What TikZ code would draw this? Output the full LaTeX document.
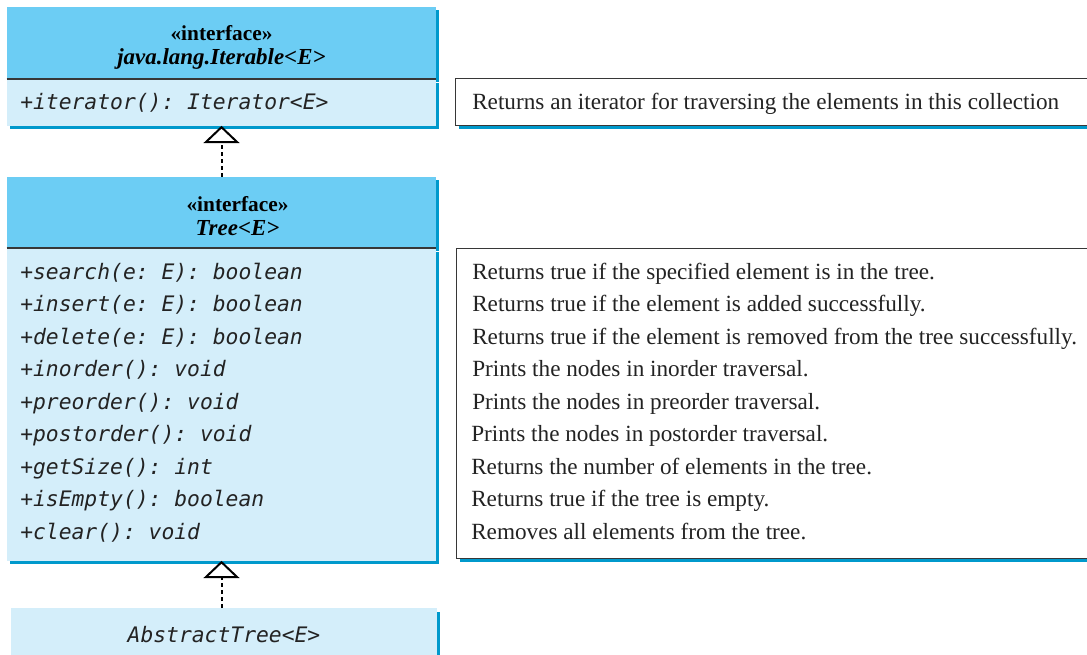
\documentclass[tikz,border=0pt]{standalone}
\usepackage{fontspec}
\setmainfont{Liberation Serif}
\setmonofont{DejaVu Sans Mono}
\usepackage{tikz}
\usetikzlibrary{arrows.meta,positioning,shadows}
\definecolor{headblue}{RGB}{108,205,244}
\definecolor{bodyblue}{RGB}{212,238,250}
\definecolor{shadeblue}{RGB}{0,153,204}
\definecolor{rulegray}{RGB}{55,55,55}
\definecolor{inkgray}{RGB}{35,35,35}
\tikzset{
  ushade/.style={general shadow={fill=shadeblue, shadow xshift=2.4pt, shadow yshift=-2.6pt}},
  uhead/.style={fill=headblue, ushade, minimum width=321.75pt, inner sep=0pt},
  utitle/.style={inner sep=0pt, align=center, font=\fontsize{16}{18}\selectfont\bfseries},
  ubody/.style={fill=bodyblue, ushade, minimum width=321.75pt, inner sep=0pt},
  umeth/.style={anchor=base west, inner sep=0pt, text=inkgray, font=\fontsize{16}{19}\selectfont\ttfamily\itshape},
  udesc/.style={anchor=base west, inner sep=0pt, text=inkgray, font=\fontsize{17.4}{19}\selectfont},
  dbox/.style={draw=rulegray, line width=1.1pt, fill=white, ushade, anchor=north west, minimum width=483.75pt, inner sep=0pt},
  urule/.style={draw=rulegray, line width=1.5pt},
  impl/.style={-{Triangle[open, length=13pt, width=27pt, line width=1.5pt]}, line width=1.5pt, dash pattern=on 3pt off 2.25pt}
}
\begin{document}
\begin{tikzpicture}[x=0.75pt, y=-0.75pt]
\useasboundingbox (0,0) rectangle (1087,654);
\clip (0,0) rectangle (1087,654);
\node[uhead, minimum height=54pt] (iterHead) at (221.5,43) {};
\node[utitle] (iterTitle) at (221.5,47.5) {«interface»\\{\fontsize{17.2}{18}\selectfont\itshape java.lang.Iterable<E>}};
\node[ubody, minimum height=34.5pt, below=0pt of iterHead] (iterBody) {};
\draw[urule] (iterBody.north west) -- (iterBody.north east);
\node[umeth] (m0) at (20,109) {+iterator(): Iterator<E>};
\node[dbox, minimum height=35.25pt] (iterDesc) at (455,78) {};
\node[udesc] (d0) at (472,109) {Returns an iterator for traversing the elements in this collection};

\node[uhead, minimum height=53.25pt] (treeHead) at (221.5,212.5) {};
\node[utitle] (treeTitle) at (237.5,216) {«interface»\\{\fontsize{17.2}{18}\selectfont\itshape Tree<E>}};
\node[ubody, minimum height=234pt, below=0pt of treeHead] (treeBody) {};
\draw[urule] (treeBody.north west) -- (treeBody.north east);
\node[dbox, minimum height=232.5pt] (treeDesc) at (456,248) {};
\node[umeth] (m1) at (20,279) {+search(e: E): boolean};
\node[umeth] (m2) at (20,311.5) {+insert(e: E): boolean};
\node[umeth] (m3) at (20,344) {+delete(e: E): boolean};
\node[umeth] (m4) at (20,376.5) {+inorder(): void};
\node[umeth] (m5) at (20,409) {+preorder(): void};
\node[umeth] (m6) at (20,441.5) {+postorder(): void};
\node[umeth] (m7) at (20,474) {+getSize(): int};
\node[umeth] (m8) at (20,506.5) {+isEmpty(): boolean};
\node[umeth] (m9) at (20,539) {+clear(): void};
\node[udesc] (d1) at (472,279) {Returns true if the specified element is in the tree.};
\node[udesc] (d2) at (472,311.5) {Returns true if the element is added successfully.};
\node[udesc] (d3) at (472,344) {Returns true if the element is removed from the tree successfully.};
\node[udesc] (d4) at (472,376.5) {Prints the nodes in inorder traversal.};
\node[udesc] (d5) at (472,409) {Prints the nodes in preorder traversal.};
\node[udesc] (d6) at (471,441.5) {Prints the nodes in postorder traversal.};
\node[udesc] (d7) at (471,474) {Returns the number of elements in the tree.};
\node[udesc] (d8) at (471,506.5) {Returns true if the tree is empty.};
\node[udesc] (d9) at (471,539) {Removes all elements from the tree.};

\node[ubody, minimum width=319.5pt, minimum height=39pt, anchor=north, text=inkgray, font=\fontsize{16}{19}\selectfont\ttfamily\itshape] (absTree) at (224,608) {AbstractTree<E>};

\draw[impl] (treeHead.north) -- (iterBody.south);
\draw[impl] (absTree.north -| treeBody.south) -- (treeBody.south);
\end{tikzpicture}
\end{document}
